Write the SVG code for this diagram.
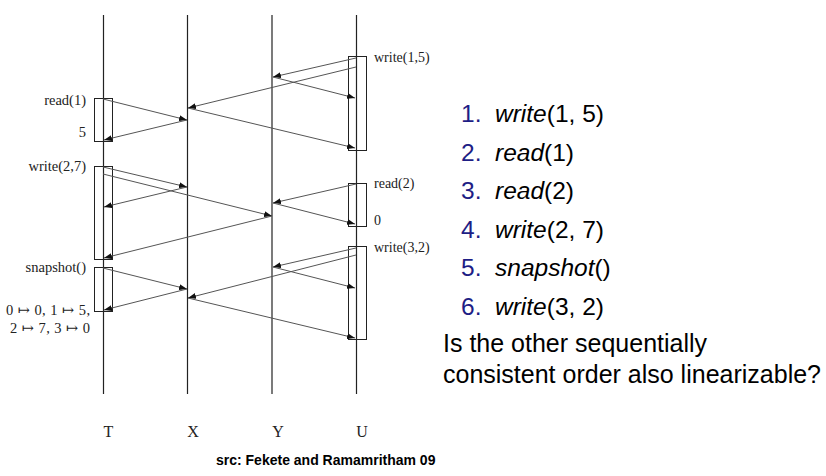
<svg xmlns="http://www.w3.org/2000/svg" width="826" height="476" viewBox="0 0 826 476">
<defs>
<marker id="ah" markerUnits="userSpaceOnUse" markerWidth="8" markerHeight="6" refX="8" refY="3" orient="auto">
<path d="M0,0 L8,3 L0,6 z" fill="#111"/>
</marker>
<style>
.life{stroke:#222;stroke-width:1.2;fill:none}
.box{stroke:#222;stroke-width:1;fill:none}
.msg{stroke:#555;stroke-width:1;fill:none;marker-end:url(#ah)}
.lbl{font-family:"Liberation Serif","DejaVu Serif",serif;font-size:14.5px;fill:#222}
.rlbl{font-family:"Liberation Serif","DejaVu Serif",serif;font-size:14px;fill:#222}
.proc{font-family:"Liberation Serif","DejaVu Serif",serif;font-size:16px;fill:#222;text-anchor:middle}
.num{font-family:"Liberation Sans",Arial,sans-serif;font-size:24.5px;fill:#1e1e85}
.item{font-family:"Liberation Sans",Arial,sans-serif;font-size:24.5px;fill:#000}
.q{font-family:"Liberation Sans",Arial,sans-serif;font-size:25px;fill:#000}
.src{font-family:"Liberation Sans",Arial,sans-serif;font-size:14px;font-weight:bold;fill:#000}
</style>
</defs>
<rect width="826" height="476" fill="#fff"/>

<g id="proc-T"><line class="life" x1="103.5" y1="15" x2="103.5" y2="394"/><text class="proc" x="108.5" y="437">T</text></g>
<g id="proc-X"><line class="life" x1="187.5" y1="15" x2="187.5" y2="394"/><text class="proc" x="193" y="437">X</text></g>
<g id="proc-Y"><line class="life" x1="272" y1="15" x2="272" y2="394"/><text class="proc" x="278" y="437">Y</text></g>
<g id="proc-U"><line class="life" x1="356.5" y1="15" x2="356.5" y2="394"/><text class="proc" x="362" y="437">U</text></g>

<g id="op-read1"><rect class="box" x="94.5" y="98.5" width="18" height="43"/><text class="lbl" x="86" y="105" text-anchor="end">read(1)</text><text class="lbl" x="86" y="137" text-anchor="end">5</text></g>
<g id="op-write27"><rect class="box" x="94.5" y="166.5" width="18" height="93"/><text class="lbl" x="86" y="171" text-anchor="end">write(2,7)</text></g>
<g id="op-snapshot"><rect class="box" x="94.5" y="267.5" width="18" height="44"/><text class="lbl" x="86" y="272" text-anchor="end">snapshot()</text><text class="lbl" x="6" y="315" textLength="84" lengthAdjust="spacing">0 ↦ 0, 1 ↦ 5,</text><text class="lbl" x="10" y="333" textLength="80" lengthAdjust="spacing">2 ↦ 7, 3 ↦ 0</text></g>
<g id="op-write15"><rect class="box" x="348.5" y="56.5" width="18" height="94"/><text class="rlbl" x="374" y="62">write(1,5)</text></g>
<g id="op-read2"><rect class="box" x="348.5" y="183.5" width="18" height="43"/><text class="rlbl" x="374" y="188">read(2)</text><text class="rlbl" x="374" y="225">0</text></g>
<g id="op-write32"><rect class="box" x="348.5" y="246.5" width="18" height="93"/><text class="rlbl" x="374" y="252">write(3,2)</text></g>

<g id="connectors">
<line class="msg" x1="356" y1="58" x2="273" y2="77"/>
<line class="msg" x1="273" y1="77" x2="355" y2="98"/>
<line class="msg" x1="356" y1="67" x2="188" y2="108"/>
<line class="msg" x1="188" y1="108" x2="355" y2="148"/>
<line class="msg" x1="103" y1="99" x2="187" y2="120"/>
<line class="msg" x1="187" y1="120" x2="104" y2="140"/>
<line class="msg" x1="103" y1="167" x2="187" y2="187"/>
<line class="msg" x1="187" y1="187" x2="104" y2="207"/>
<line class="msg" x1="103" y1="174" x2="272" y2="216"/>
<line class="msg" x1="272" y1="216" x2="104" y2="258"/>
<line class="msg" x1="356" y1="184" x2="273" y2="203"/>
<line class="msg" x1="273" y1="203" x2="355" y2="224"/>
<line class="msg" x1="356" y1="248" x2="273" y2="267"/>
<line class="msg" x1="273" y1="267" x2="355" y2="288"/>
<line class="msg" x1="356" y1="255" x2="188" y2="298"/>
<line class="msg" x1="188" y1="298" x2="355" y2="338"/>
<line class="msg" x1="103" y1="268" x2="187" y2="289"/>
<line class="msg" x1="187" y1="289" x2="104" y2="310"/>
</g>

<g id="order-list">
<text class="num" x="461" y="122">1.</text><text class="item" x="495" y="122"><tspan font-style="italic">write</tspan>(1, 5)</text>
<text class="num" x="461" y="160.5">2.</text><text class="item" x="495" y="160.5"><tspan font-style="italic">read</tspan>(1)</text>
<text class="num" x="461" y="199">3.</text><text class="item" x="495" y="199"><tspan font-style="italic">read</tspan>(2)</text>
<text class="num" x="461" y="237.5">4.</text><text class="item" x="495" y="237.5"><tspan font-style="italic">write</tspan>(2, 7)</text>
<text class="num" x="461" y="276">5.</text><text class="item" x="495" y="276"><tspan font-style="italic">snapshot</tspan>()</text>
<text class="num" x="461" y="314.5">6.</text><text class="item" x="495" y="314.5"><tspan font-style="italic">write</tspan>(3, 2)</text>
</g>

<g id="question">
<text class="q" x="443" y="352">Is the other sequentially</text>
<text class="q" x="443" y="383">consistent order also linearizable?</text>
</g>

<g id="source"><text class="src" x="216" y="465">src: Fekete and Ramamritham 09</text></g>
</svg>
